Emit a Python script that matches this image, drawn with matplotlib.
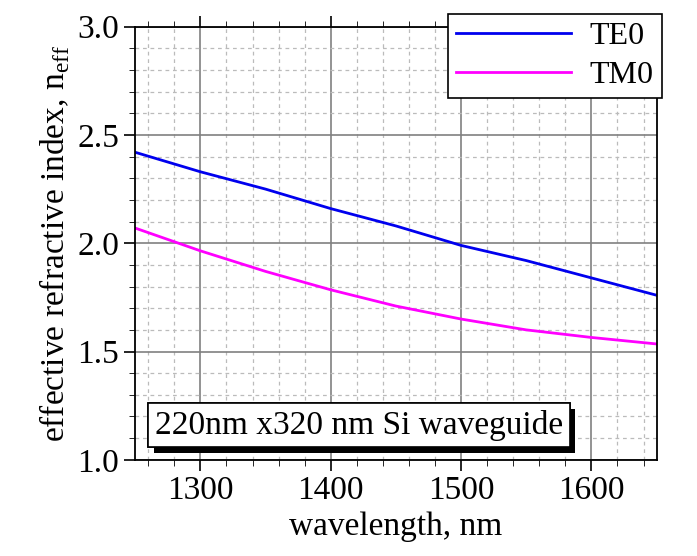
import matplotlib
matplotlib.use('Agg')
import matplotlib.pyplot as plt
from matplotlib.ticker import MultipleLocator
import matplotlib.patheffects as pe

wavelength = [1250, 1300, 1350, 1400, 1450, 1500, 1550, 1600, 1650]
te0 = [2.42, 2.33, 2.25, 2.16, 2.08, 1.99, 1.92, 1.84, 1.76]
tm0 = [2.07, 1.965, 1.87, 1.785, 1.71, 1.65, 1.60, 1.565, 1.535]

plt.rcParams['font.family'] = 'serif'
plt.rcParams['font.serif'] = ['Liberation Serif', 'DejaVu Serif']
plt.rcParams['mathtext.fontset'] = 'custom'
plt.rcParams['mathtext.rm'] = 'Liberation Serif'

fig = plt.figure(figsize=(6.97, 5.56), dpi=100)
ax = fig.add_axes([0.194, 0.173, 0.748, 0.779])

ax.plot(wavelength, te0, color='#0000ee', lw=2, label='TE0')
ax.plot(wavelength, tm0, color='#ff00ff', lw=2, label='TM0')

ax.set_xlim(1250, 1650)
ax.set_ylim(1.0, 3.0)
ax.xaxis.set_major_locator(MultipleLocator(100))
ax.xaxis.set_minor_locator(MultipleLocator(20))
ax.yaxis.set_major_locator(MultipleLocator(0.5))
ax.yaxis.set_minor_locator(MultipleLocator(0.1))
ax.yaxis.set_major_formatter(plt.FormatStrFormatter('%.1f'))
ax.grid(which='major', color='gray', lw=1.2)
ax.grid(which='minor', color='#bbbbbb', lw=0.9, ls=(0, (3, 3)))
ax.tick_params(which='both', direction='out', top=True, labelsize=24)
ax.tick_params(which='major', length=8, width=1.2)
ax.tick_params(which='minor', length=4)
for s in ax.spines.values():
    s.set_linewidth(1.3)

ax.set_xlabel('wavelength, nm', fontsize=24)
ax.set_ylabel(r'effective refractive index, n$_{\mathrm{eff}}$', fontsize=24)

leg = ax.legend(loc='upper right', fontsize=23, fancybox=False, framealpha=1,
                edgecolor='black', bbox_to_anchor=(1.01, 1.03), borderaxespad=0,
                handlelength=3.6, borderpad=0.25, labelspacing=0.3, handletextpad=0.6)
leg.get_frame().set_linewidth(1.2)

ax.text(1265, 1.12, '220nm x320 nm Si waveguide', fontsize=24, zorder=5,
        bbox=dict(boxstyle='square,pad=0.2', fc='white', ec='black', lw=1.2,
                  path_effects=[pe.withSimplePatchShadow(offset=(4, -4), shadow_rgbFace='black', alpha=1), pe.Normal()]))

fig.savefig('out.png', dpi=100)
